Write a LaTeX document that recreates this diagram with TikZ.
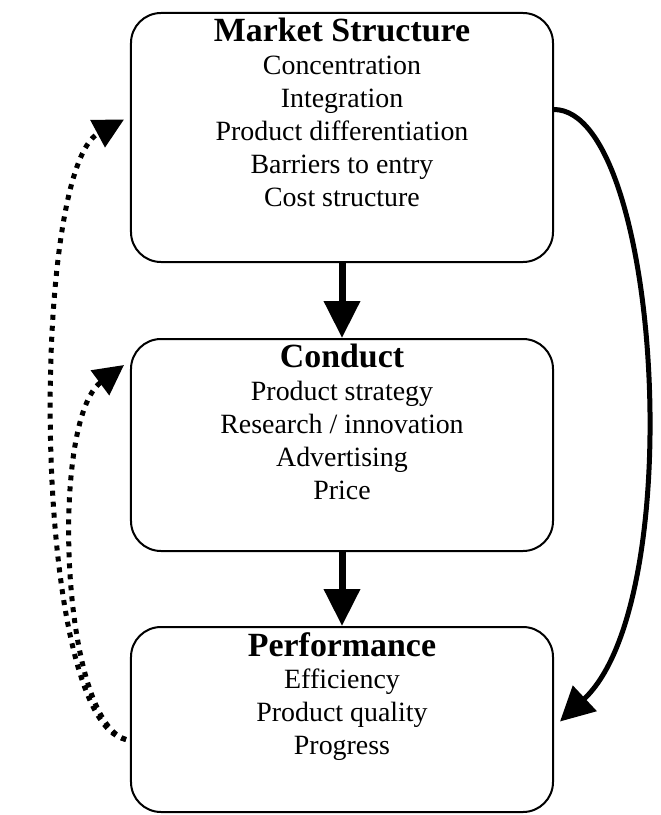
\documentclass[tikz,border=0pt]{standalone}
\usepackage{fontspec}
\setmainfont{Liberation Serif}
\usepackage{tikz}
\usetikzlibrary{arrows.meta}

\tikzset{
  scpbox/.style={draw, line width=2bp, rounded corners=30bp, minimum width=422bp, inner sep=0pt},
  scptext/.style={anchor=north, align=center, inner sep=0pt, font=\fontsize{28}{33}\selectfont},
  bigarrow/.style={line width=7bp, -{Triangle[width=35bp,length=37bp]}},
  loopback/.style={line width=5bp, -{Triangle[width=34bp,length=34bp]}},
  feedback/.style={line width=5bp, dash pattern=on 5bp off 6bp,
    -{Triangle[width=30bp,length=30bp]}}
}
\newcommand{\boxhead}[1]{{\fontsize{34}{36}\selectfont\bfseries #1}}

\begin{document}
\begin{tikzpicture}[x=1bp, y=-1bp]
                \useasboundingbox (0, 0) rectangle (661, 815);
                \node[scpbox, minimum height=249bp] (ms) at (342, 137.5) {};
                \node[scptext] (mstxt) at ([yshift=-6bp]ms.north)
                    {\boxhead{Market Structure}\\Concentration\\Integration\\Product differentiation\\Barriers to entry\\Cost structure};
                \node[scpbox, minimum height=212bp] (cd) at (342, 445) {};
                \node[scptext] (cdtxt) at ([yshift=-6bp]cd.north)
                    {\boxhead{Conduct}\\Product strategy\\Research / innovation\\Advertising\\Price};
                \node[scpbox, minimum height=185bp] (pf) at (342, 719.5) {};
                \node[scptext] (pftxt) at ([yshift=-6bp]pf.north)
                    {\boxhead{Performance}\\Efficiency\\Product quality\\Progress};
                \draw[bigarrow] (ms) -- (cd);
                \draw[bigarrow] (cd) -- (pf);
                % structure feeds straight into performance
                \draw[loopback] ([yshift=28bp]ms.east) .. controls (660, 110) and (690, 600) .. ([yshift=-2bp, xshift=6bp]pf.east);
                % feedback loops
                \coordinate (fb) at ([yshift=-20bp, xshift=-4bp]pf.west);
                \draw[feedback] (fb) .. controls (30, 720) and (30, 170) .. ([yshift=18bp, xshift=-6bp]ms.west);
                \draw[feedback] (fb) .. controls (60, 720) and (50, 420) .. ([yshift=80bp, xshift=-6bp]cd.west);
            \end{tikzpicture}
\end{document}
